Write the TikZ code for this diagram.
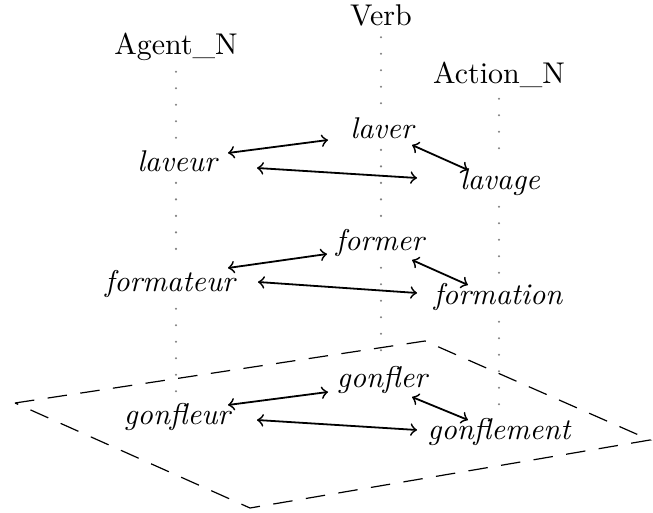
\documentclass[tikz,border=0pt]{standalone}
\usepackage{tikz}
\usetikzlibrary{arrows, positioning}
\tikzset{
        >=to, % plain arrow heads
        tier/.style={anchor=base}, % column headers
        word/.style={anchor=base, font=\itshape}, % lexemes
        tierline/.style={gray, line width=0.8pt, line cap=round, dash pattern=on 0pt off 5.5pt}, % dotted columns
        link/.style={<->, semithick}, % relations between lexemes
        plane/.style={dash pattern=on 6.5pt off 4.5pt}, % the lower layer
    }
\begin{document}
\begin{tikzpicture}[x=0.3333pt, y=-0.3333pt]
    \useasboundingbox (0,0) rectangle (653,513);
    \node[tier] (agent) at (176,55) {Agent\_N};
    \node[tier] (verb) at (381,26) {Verb};
    \node[tier] (action) at (499,84) {Action\_N};
    \node[word] (laveur) at (177,172) {laveur};
    \node[word] (laver) at (382,139) {laver};
    \node[word] (lavage) at (500,190) {lavage};
    \node[word] (formateur) at (170,292) {formateur};
    \node[word] (former) at (380,251) {former};
    \node[word] (formation) at (498,305) {formation};
    \node[word] (gonfleur) at (177,425) {gonfleur};
    \node[word] (gonfler) at (382,388) {gonfler};
    \node[word] (gonflement) at (499,440) {gonflement};
    \draw[plane] (15,403) -- (425,341) -- (650,440) -- (250,508) -- cycle;
    \foreach \t/\a/\b/\c in {agent/laveur/formateur/gonfleur, verb/laver/former/gonfler, action/lavage/formation/gonflement}
      \draw[tierline] (\t.south) -- (\t.south |- \a.north)
        (\t.south |- \a.south) -- (\t.south |- \b.north)
        (\t.south |- \b.south) -- (\t.south |- \c.north);
    \draw[link] ([shift={(51,-19)}]laveur.base) -- ([shift={(-54,1)}]laver.base);
    \draw[link] ([shift={(80,-4)}]laveur.base) -- ([shift={(-83,-12)}]lavage.base);
    \draw[link] ([shift={(30,6)}]laver.base) -- ([shift={(-32,-20)}]lavage.base);
    \draw[link] ([shift={(58,-24)}]formateur.base) -- ([shift={(-53,3)}]former.base);
    \draw[link] ([shift={(88,-10)}]formateur.base) -- ([shift={(-81,-12)}]formation.base);
    \draw[link] ([shift={(32,9)}]former.base) -- ([shift={(-30,-20)}]formation.base);
    \draw[link] ([shift={(51,-20)}]gonfleur.base) -- ([shift={(-54,4)}]gonfler.base);
    \draw[link] ([shift={(80,-5)}]gonfleur.base) -- ([shift={(-82,-10)}]gonflement.base);
    \draw[link] ([shift={(30,9)}]gonfler.base) -- ([shift={(-31,-20)}]gonflement.base);
  \end{tikzpicture}
\end{document}
